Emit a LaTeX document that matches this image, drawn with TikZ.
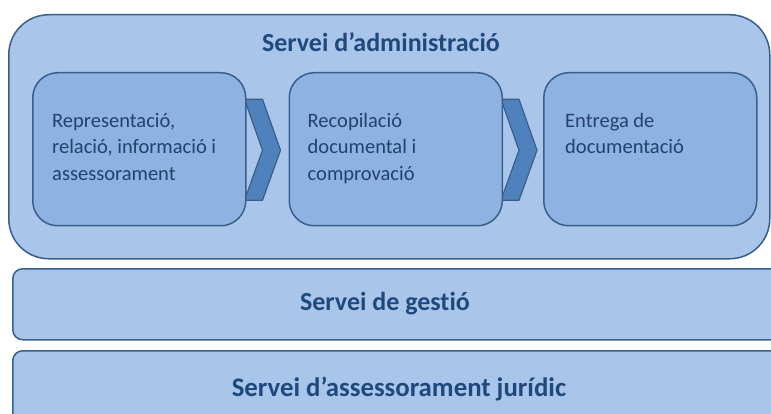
\documentclass[tikz,border=0pt]{standalone}
\usepackage{fontspec}
\setmainfont{Carlito}[Ligatures={NoCommon}]
\usepackage{tikz}
\usetikzlibrary{positioning}
\usetikzlibrary{math}
\definecolor{outerblue}{RGB}{169,197,233}
\definecolor{innerblue}{RGB}{142,179,226}
\definecolor{chevblue}{RGB}{79,129,189}
\definecolor{edgeblue}{RGB}{58,94,140}
\definecolor{titleblue}{RGB}{31,73,125}
\definecolor{stageink}{RGB}{38,64,110}
\pgfdeclarelayer{back}
\pgfdeclarelayer{mid}
\pgfsetlayers{back,mid,main}
\tikzstyle{panel} = [draw=edgeblue, fill=outerblue, line width=1.5pt, rounded corners=40pt, inner sep=0pt]
\tikzstyle{bar} = [draw=edgeblue, fill=outerblue, line width=1.5pt, rounded corners=10pt, inner sep=0pt]
\tikzstyle{stage} = [draw=edgeblue, fill=innerblue, line width=1.5pt, rounded corners=25pt, inner sep=0pt, minimum width=213pt, minimum height=153pt]
\tikzstyle{chev} = [draw=edgeblue, fill=chevblue, line width=1.2pt, line join=miter]
\tikzstyle{title} = [font=\fontsize{26}{30}\selectfont\bfseries, text=titleblue, inner sep=0pt, anchor=base]
\tikzstyle{stagetext} = [font=\fontsize{20.5}{26.5}\selectfont, text=stageink, align=left, anchor=north west, inner sep=0pt]

\begin{document}
\begin{tikzpicture}[x=1pt, y=-1pt]

  \useasboundingbox (0,0) rectangle (771,414);
  \clip (0,0) rectangle (771,414);

  % lower bars
  \node[bar, anchor=north west, minimum width=775pt, minimum height=71pt] (gestio) at (12,268) {};
  \node[bar, anchor=north west, minimum width=775pt, minimum height=76pt] (juridic) at (12,350) {};
  \node[title] (gestiotext) at (385,310) {Servei de gestió};
  \node[title, font=\fontsize{26.8}{31}\selectfont\bfseries] (juridictext) at (399,396) {Servei d’assessorament jurídic};

  % Servei d'administracio
  \begin{pgfonlayer}{back}
    \node[panel, anchor=north west, minimum width=761pt, minimum height=244pt] (admin) at (8,14) {};
  \end{pgfonlayer}
  \node[title] (admintitle) at (381,52) {Servei d’administració};

  % stages
  \node[stage, anchor=north west] (repr) at (32,72) {};
  \node[stage, right=42pt of repr] (recop) {};
  \node[stage, right=40pt of recop] (entrega) {};

  % chevrons
  \begin{pgfonlayer}{mid}
    \foreach \a in {repr, recop} {
      \draw[chev] ([shift={(-2,-50)}]\a.east) -- ([shift={(16,-50)}]\a.east)
        -- ([shift={(34,1)}]\a.east) -- ([shift={(16,51)}]\a.east)
        -- ([shift={(-2,51)}]\a.east) -- ([shift={(16,1)}]\a.east) -- cycle;
    }
  \end{pgfonlayer}

  \node[stagetext] (reprtext) at ([shift={(20,41)}]repr.north west)
    {Representació,\\relació, informació i\\assessorament};
  \node[stagetext] (recoptext) at ([shift={(19,41)}]recop.north west)
    {Recopilació\\documental i\\comprovació};
  \node[stagetext] (entregatext) at ([shift={(22,41)}]entrega.north west)
    {Entrega de\\documentació};

\end{tikzpicture}
\end{document}
